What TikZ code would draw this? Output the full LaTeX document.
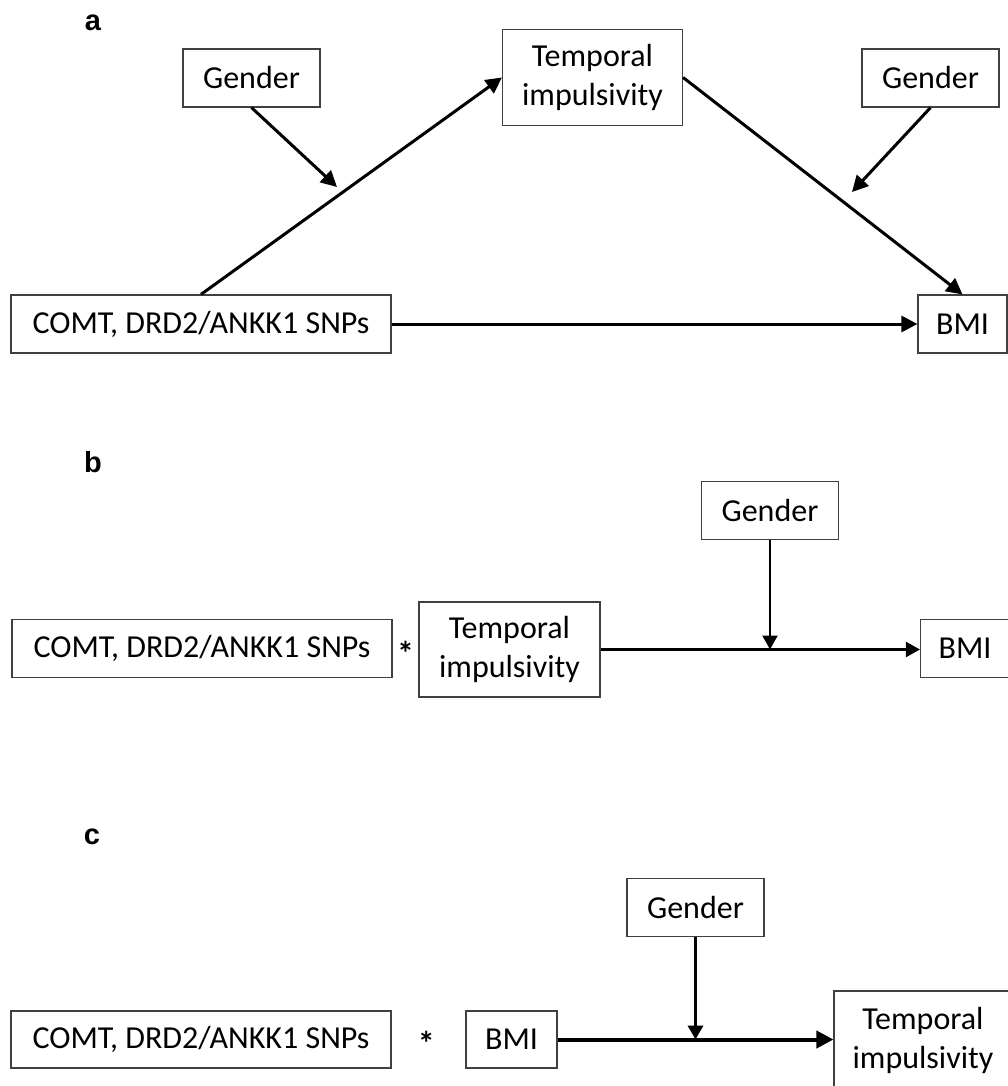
\documentclass[tikz,border=0pt]{standalone}
\usepackage{fontspec}
\setmainfont{Carlito}
\newfontfamily\gmlabelfont{Liberation Sans}
\usetikzlibrary{positioning, arrows.meta, calc}
\tikzset{
  gm@box/.style={
    draw=black!75, line width=1.2pt, fill=white,
    inner sep=0pt, align=center,
    font=\fontsize{32}{39}\selectfont
  },
  gm@gender/.style={gm@box, minimum width=137pt, minimum height=58pt},
  gm@snp/.style={gm@box, minimum width=380pt, minimum height=58pt},
  gm@bmi/.style={gm@box, minimum width=89pt, minimum height=58pt},
  gm@temp/.style={gm@box, minimum width=180pt, minimum height=96pt},
  gm@panel/.style={font=\gmlabelfont\bfseries\fontsize{29}{29}\selectfont, inner sep=0pt},
  gm@star/.style={font=\bfseries\fontsize{34}{34}\selectfont, inner sep=0pt, yshift=-4pt},
  gm@arr/.style={-{Triangle[length=16pt,width=16pt]}, line width=3pt},
  gm@thin/.style={-{Triangle[length=14pt,width=15pt]}, line width=2pt},
}

\begin{document}
\begin{tikzpicture}[x=1pt, y=-1pt]
  \useasboundingbox (0,0) rectangle (1008,1086);

  % a
  \node[gm@panel] (labA) at (93,23) {a};
  \node[gm@gender] (genA1) at (251.5,78) {Gender};
  \node[gm@temp]   (tempA) at (592.5,77.5) {Temporal\\impulsivity};
  \node[gm@gender] (genA2) at (930.5,78) {Gender};
  \node[gm@snp]    (snpA)  at (201,324) {COMT, DRD2/ANKK1 SNPs};
  \node[gm@bmi]    (bmiA)  at (962.5,324) {BMI};
  \coordinate (modA1) at (337,187);
  \coordinate (modA2) at (852,192);

  \draw[gm@arr] (snpA.north) -- (tempA.west);
  \draw[gm@arr] (tempA.east) -- (bmiA.north);
  \draw[gm@arr] (snpA.east)  -- (bmiA.west);
  \draw[gm@arr] (genA1.south) -- (modA1);
  \draw[gm@arr] (genA2.south) -- (modA2);

  % b
  \node[gm@panel] (labB) at (93,462) {b};
  \node[gm@snp]    (snpB)  at (202,648.5) {COMT, DRD2/ANKK1 SNPs};
  \node[gm@temp, minimum width=181pt, minimum height=95pt] (tempB) at (509.5,649.5) {Temporal\\impulsivity};
  \node[gm@gender] (genB)  at (770,510.5) {Gender};
  \node[gm@bmi]    (bmiB)  at (965,648.5) {BMI};
  \node[gm@star]   (starB) at ($(snpB.east)!0.5!(tempB.west)$) {*};
  \coordinate (modB) at (genB.south |- tempB.east);

  \draw[gm@thin, line width=2.5pt] (tempB.east) -- (tempB.east -| bmiB.west);
  \draw[gm@thin] (genB.south) -- (modB);

  % c
  \node[gm@panel] (labC) at (92,837) {c};
  \node[gm@snp, minimum height=57pt] (snpC) at (201,1039.5) {COMT, DRD2/ANKK1 SNPs};
  \node[gm@bmi, minimum width=91pt, minimum height=57pt] (bmiC) at (511.5,1039.5) {BMI};
  \node[gm@gender] (genC)  at (695.5,907.5) {Gender};
  \node[gm@temp, minimum width=178pt, minimum height=98pt] (tempC) at (923,1040) {Temporal\\impulsivity};
  \node[gm@star]   (starC) at ($(snpC.east)!0.47!(bmiC.west)$) {*};
  \coordinate (modC) at (genC.south |- bmiC.east);

  \draw[-{Triangle[length=17pt,width=17pt]}, line width=4pt] (bmiC.east) -- (bmiC.east -| tempC.west);
  \draw[gm@thin, line width=3.5pt] (genC.south) -- (modC);
\end{tikzpicture}
\end{document}
